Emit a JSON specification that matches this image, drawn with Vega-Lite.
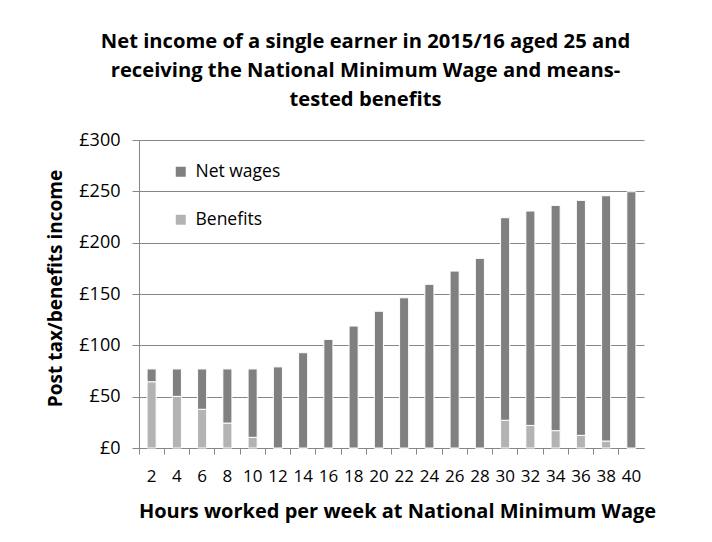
{
  "$schema": "https://vega.github.io/schema/vega-lite/v6.json",
  "autosize": "none",
  "padding": {"left": 139, "top": 140, "right": 67, "bottom": 94},
  "width": 505,
  "height": 308,
  "background": "white",
  "title": {
    "text": ["Net income of a single earner in 2015/16 aged 25 and", "receiving the National Minimum Wage and means-", "tested benefits"],
    "anchor": "middle",
    "frame": "group",
    "dx": -26,
    "offset": 21,
    "font": "Open Sans",
    "fontSize": 20.2,
    "fontWeight": "bold",
    "lineHeight": 29,
    "color": "#000000"
  },
  "data": {
    "values": [
      {"hours": 2, "series": "Benefits", "value": 64.5},
      {"hours": 2, "series": "Net wages", "value": 12.5},
      {"hours": 4, "series": "Benefits", "value": 50.3},
      {"hours": 4, "series": "Net wages", "value": 26.7},
      {"hours": 6, "series": "Benefits", "value": 37.7},
      {"hours": 6, "series": "Net wages", "value": 39.3},
      {"hours": 8, "series": "Benefits", "value": 24.3},
      {"hours": 8, "series": "Net wages", "value": 52.7},
      {"hours": 10, "series": "Benefits", "value": 10.4},
      {"hours": 10, "series": "Net wages", "value": 66.6},
      {"hours": 12, "series": "Benefits", "value": 0},
      {"hours": 12, "series": "Net wages", "value": 79},
      {"hours": 14, "series": "Benefits", "value": 0},
      {"hours": 14, "series": "Net wages", "value": 92.8},
      {"hours": 16, "series": "Benefits", "value": 0},
      {"hours": 16, "series": "Net wages", "value": 105.8},
      {"hours": 18, "series": "Benefits", "value": 0},
      {"hours": 18, "series": "Net wages", "value": 118.8},
      {"hours": 20, "series": "Benefits", "value": 0},
      {"hours": 20, "series": "Net wages", "value": 133.2},
      {"hours": 22, "series": "Benefits", "value": 0},
      {"hours": 22, "series": "Net wages", "value": 146.3},
      {"hours": 24, "series": "Benefits", "value": 0},
      {"hours": 24, "series": "Net wages", "value": 159.4},
      {"hours": 26, "series": "Benefits", "value": 0},
      {"hours": 26, "series": "Net wages", "value": 172.3},
      {"hours": 28, "series": "Benefits", "value": 0},
      {"hours": 28, "series": "Net wages", "value": 184.7},
      {"hours": 30, "series": "Benefits", "value": 27},
      {"hours": 30, "series": "Net wages", "value": 197.3},
      {"hours": 32, "series": "Benefits", "value": 22},
      {"hours": 32, "series": "Net wages", "value": 208.8},
      {"hours": 34, "series": "Benefits", "value": 16.9},
      {"hours": 34, "series": "Net wages", "value": 219.4},
      {"hours": 36, "series": "Benefits", "value": 12.3},
      {"hours": 36, "series": "Net wages", "value": 228.9},
      {"hours": 38, "series": "Benefits", "value": 6.8},
      {"hours": 38, "series": "Net wages", "value": 238.9},
      {"hours": 40, "series": "Benefits", "value": 0},
      {"hours": 40, "series": "Net wages", "value": 249.6}
    ]
  },
  "mark": {"type": "bar", "width": {"band": 0.36}, "stroke": "white", "strokeWidth": 1},
  "encoding": {
    "x": {
      "field": "hours",
      "type": "ordinal",
      "scale": {"paddingInner": 0, "paddingOuter": 0},
      "axis": {
        "title": "Hours worked per week at National Minimum Wage",
        "titleX": 258,
        "labelAngle": 0,
        "bandPosition": 0,
        "labelFont": "Open Sans",
        "labelFontSize": 17,
        "labelColor": "#000000",
        "labelPadding": 14,
        "tickColor": "#868686",
        "tickSize": 6,
        "domainColor": "#868686",
        "titleFont": "Open Sans",
        "titleFontSize": 20,
        "titleFontWeight": "bold",
        "titleColor": "#000000",
        "titlePadding": 17,
        "grid": false
      }
    },
    "y": {
      "field": "value",
      "type": "quantitative",
      "stack": "zero",
      "scale": {"domain": [0, 300]},
      "axis": {
        "title": "Post tax/benefits income",
        "titleY": 148,
        "values": [0, 50, 100, 150, 200, 250, 300],
        "labelExpr": "'£' + datum.value",
        "labelFont": "Open Sans",
        "labelFontSize": 18,
        "labelColor": "#000000",
        "labelPadding": 12,
        "tickSize": 7,
        "tickColor": "#868686",
        "domainColor": "#868686",
        "gridColor": "#868686",
        "titleFont": "Open Sans",
        "titleFontSize": 19,
        "titleFontWeight": "bold",
        "titleColor": "#000000",
        "titlePadding": 13
      }
    },
    "color": {
      "field": "series",
      "type": "nominal",
      "scale": {"domain": ["Net wages", "Benefits"], "range": ["#808080", "#b3b3b3"]},
      "legend": {
        "title": null,
        "orient": "none",
        "legendX": 33,
        "legendY": 23,
        "symbolType": "square",
        "symbolSize": 100,
        "symbolStrokeWidth": 0,
        "labelFont": "Open Sans",
        "labelFontSize": 17.5,
        "labelColor": "#000000",
        "labelOffset": 6,
        "rowPadding": 29
      }
    },
    "order": {"field": "series", "sort": "ascending"}
  },
  "config": {"view": {"stroke": null}}
}
